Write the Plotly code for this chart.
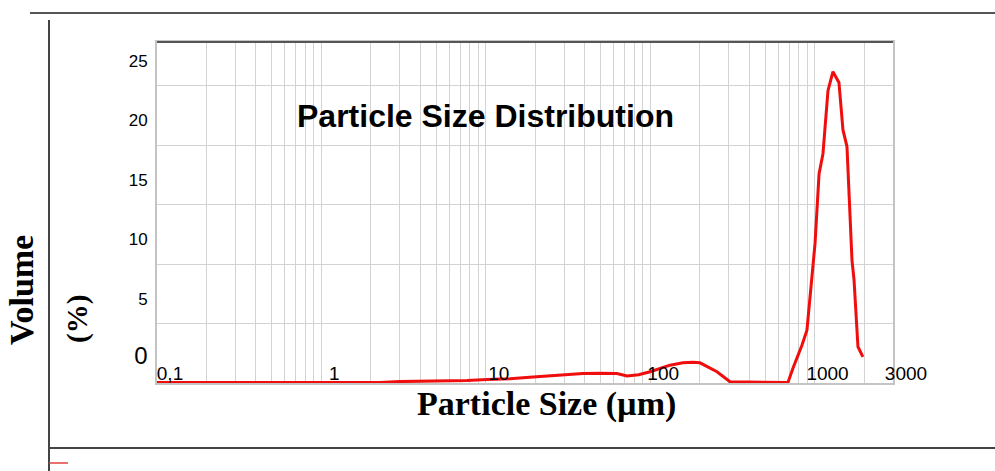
import math
import plotly.graph_objects as go

# ---- data ----
size_um = [0.1, 0.18, 0.37, 0.74, 1.18, 1.49, 2.27, 3.0, 5.27, 7.7, 10.2, 14.0,
           19.4, 28.3, 39, 49.5, 62.7, 72.3, 85, 100, 132, 158, 182, 201, 255,
           306, 405, 642, 689, 739, 839, 899, 966, 1007, 1065, 1125, 1207, 1294,
           1407, 1489, 1575, 1690, 1738, 1837, 1968]
volume_pct = [0.05, 0.05, 0.05, 0.05, 0.1, 0.08, 0.05, 0.12, 0.15, 0.2, 0.3, 0.35,
              0.5, 0.65, 0.8, 0.82, 0.8, 0.6, 0.7, 0.95, 1.5, 1.7, 1.75, 1.7, 0.95,
              0.1, 0.1, 0.1, 0.05, 1.25, 3.2, 4.45, 9.5, 11.75, 17.6, 19.3, 24.6, 26.2,
              25.3, 21.3, 19.9, 10.3, 8.7, 3.05, 2.2]

x_label_vals = [0.1, 1, 10, 100, 1000, 3000]
x_label_text = ["0,1", "1", "10", "100", "1000", "3000"]
y_tick_vals = [0, 5, 10, 15, 20, 25]
y_tick_text = ["<span style='font-size:24px'>0</span>", "5", "10", "15", "20", "25"]

title_text = "Particle Size Distribution"
x_title = "Particle Size (µm)"
y_title_1 = "Volume"
y_title_2 = "(%)"

# grid positions on the log axis (1..9 of each decade)
grid_vals = []
for e in range(-1, 4):
    for m in range(1, 10):
        v = round(m * 10 ** e, 6)
        if v <= 3000:
            grid_vals.append(v)
grid_text = []
for v in grid_vals:
    if v in x_label_vals:
        grid_text.append(x_label_text[x_label_vals.index(v)])
    else:
        grid_text.append("")

W, H = 995, 471
L, R, T, B = 157, 102, 42, 88
pw, ph = W - L - R, H - T - B


def px(xpix):
    return (xpix - L) / pw


def py(ypix):
    return (H - B - ypix) / ph


fig = go.Figure()
fig.add_trace(go.Scatter(x=size_um, y=volume_pct, mode="lines",
                         line=dict(color="#f00d0d", width=3), showlegend=False,
                         hoverinfo="skip"))

grid_col = "#d3d3d3"
fig.update_layout(
    width=W, height=H,
    margin=dict(l=L, r=R, t=T, b=B, autoexpand=False),
    paper_bgcolor="white", plot_bgcolor="white",
    font=dict(family="Liberation Sans, Arial, sans-serif", color="black"),
    xaxis=dict(type="log", range=[-1, math.log10(3000) + 1e-4],
               tickvals=grid_vals, ticktext=grid_text, automargin=False,
               showgrid=True, gridcolor=grid_col, gridwidth=1,
               showline=True, linecolor="#c4c4c4", linewidth=2, mirror=True,
               zeroline=False, ticks="", tickfont=dict(size=19, color="black"),
               ticklabelposition="inside", ticklabelshift=13,
               ticklabeloverflow="allow"),
    yaxis=dict(range=[0, 28.7], tickvals=y_tick_vals, ticktext=y_tick_text,
               automargin=False,
               showgrid=True, gridcolor=grid_col, gridwidth=1,
               showline=True, linecolor="#c4c4c4", linewidth=2, mirror=True,
               zeroline=False, ticks="", tickfont=dict(size=17, color="black"),
               ticklabelshift=-25, ticklabelstandoff=4),
)

# dark top border of plot
fig.add_shape(type="line", xref="paper", yref="paper", x0=0, x1=1, y0=1, y1=1,
              line=dict(color="#555555", width=2))
# page/table decorations
fig.add_shape(type="line", xref="paper", yref="paper", x0=px(30), x1=px(995),
              y0=py(13), y1=py(13), line=dict(color="#555555", width=2))
fig.add_shape(type="line", xref="paper", yref="paper", x0=px(49), x1=px(49),
              y0=py(20), y1=py(471), line=dict(color="#444444", width=2))
fig.add_shape(type="line", xref="paper", yref="paper", x0=px(49), x1=px(995),
              y0=py(448), y1=py(448), line=dict(color="#444444", width=2))
fig.add_shape(type="line", xref="paper", yref="paper", x0=px(49), x1=px(68),
              y0=py(463), y1=py(463), line=dict(color="#e04040", width=1.5))

fig.add_annotation(text=title_text, xref="paper", yref="paper",
                   x=px(485), y=py(116), xanchor="center", yanchor="middle",
                   showarrow=False,
                   font=dict(family="Liberation Sans, Arial", size=32, color="black",
                             weight="bold"))
fig.add_annotation(text=x_title, xref="paper", yref="paper",
                   x=px(546), y=py(404), xanchor="center", yanchor="middle",
                   showarrow=False,
                   font=dict(family="Liberation Serif, Times New Roman", size=34,
                             color="black", weight="bold"))
fig.add_annotation(text=y_title_1, xref="paper", yref="paper", textangle=-90,
                   x=px(21), y=py(290), xanchor="center", yanchor="middle",
                   showarrow=False,
                   font=dict(family="Liberation Serif, Times New Roman", size=34,
                             color="black", weight="bold"))
fig.add_annotation(text=y_title_2, xref="paper", yref="paper", textangle=-90,
                   x=px(77), y=py(319), xanchor="center", yanchor="middle",
                   showarrow=False,
                   font=dict(family="Liberation Serif, Times New Roman", size=29,
                             color="black", weight="bold"))

fig.write_html("out.html", post_script="document.body.style.margin='0px';",
               config={"displayModeBar": False})
